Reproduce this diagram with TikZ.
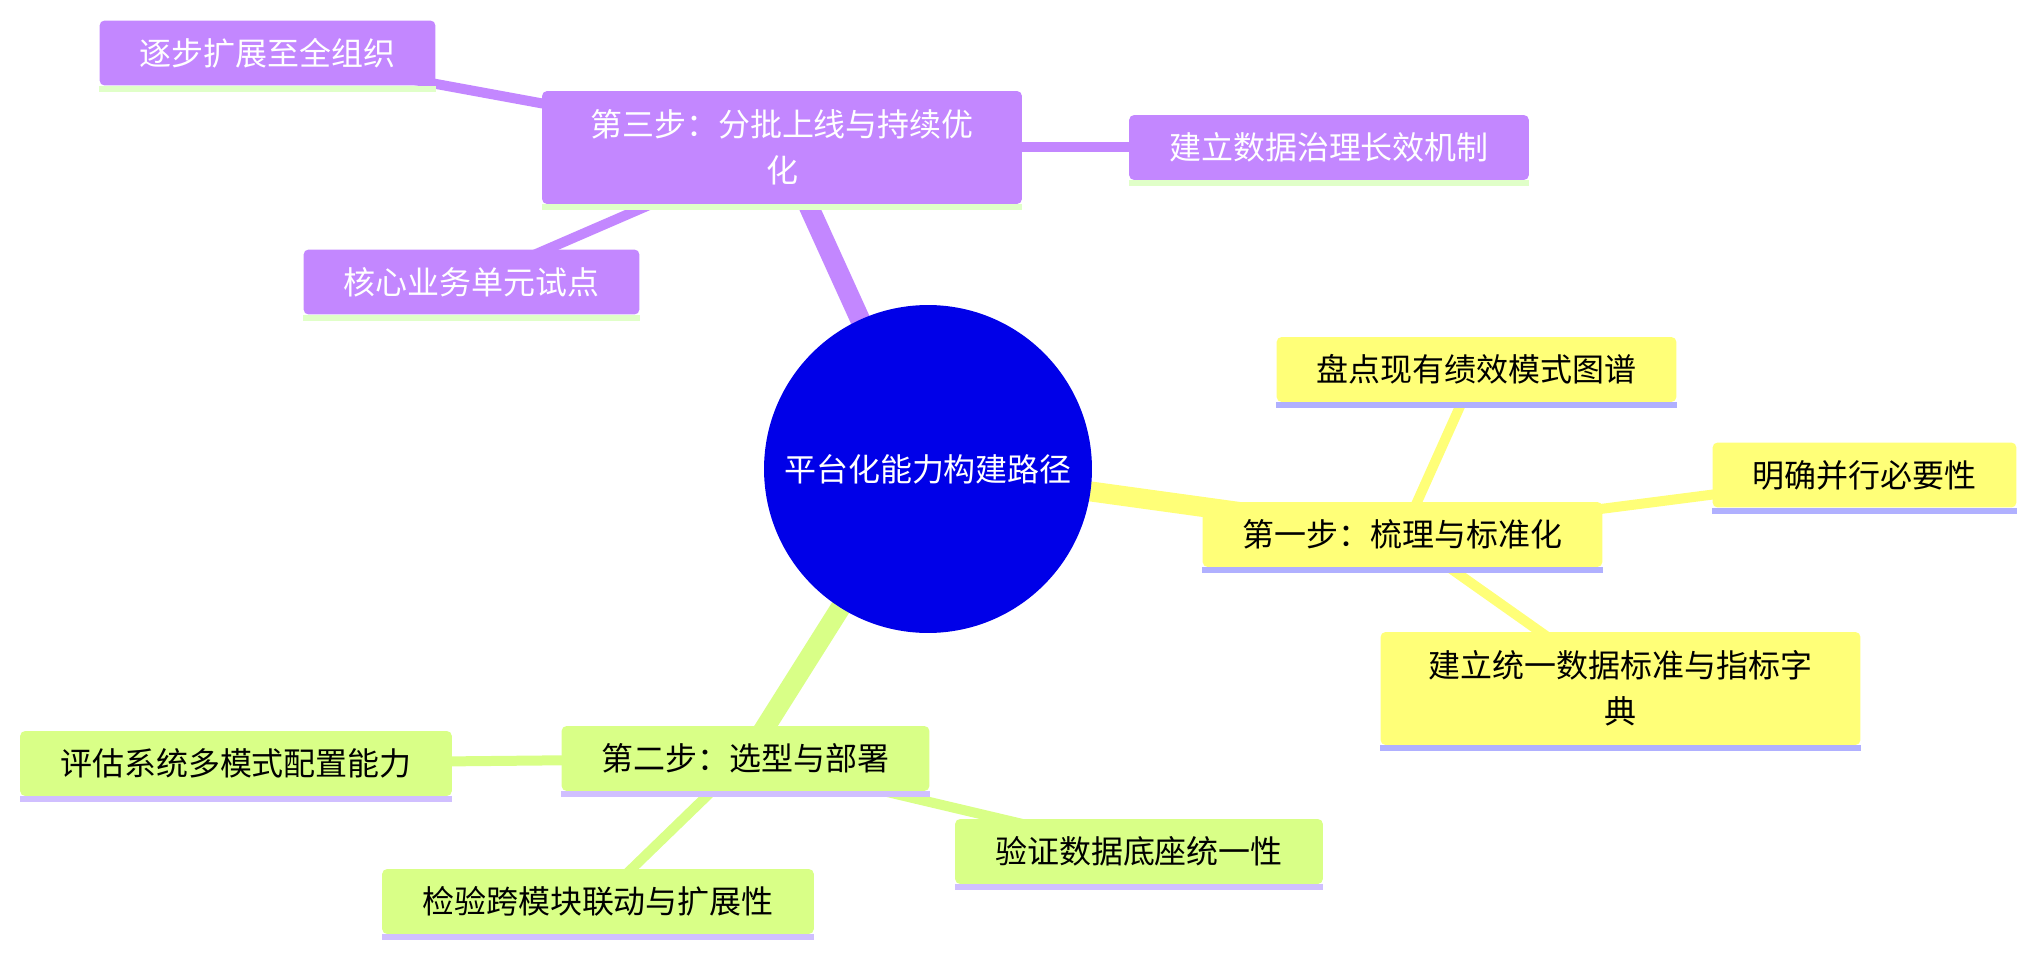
\documentclass[tikz,border=0pt]{standalone}
\usepackage{fontspec}
\setmainfont{Noto Sans CJK SC}
\usetikzlibrary{backgrounds}
\definecolor{rootBlue}{HTML}{0000E8}
\definecolor{stepPurple}{HTML}{C387FF}
\definecolor{stepYellow}{HTML}{FFFF78}
\definecolor{stepGreen}{HTML}{D9FF87}
\definecolor{linePurple}{HTML}{E0FFC8}
\definecolor{lineYellow}{HTML}{B0B0FF}
\definecolor{lineGreen}{HTML}{D0BFFF}

\begin{document}
\begin{tikzpicture}[x=0.02cm, y=-0.02cm,
  font=\fontsize{18.2}{26.2}\selectfont,
  root/.style={circle, fill=rootBlue, text=white, minimum size=6.56cm, inner sep=0pt},
  leaf/.style={rounded corners=0.1cm, inner xsep=0.8cm, inner ysep=0pt, minimum height=1.3cm},
  wrap/.style={leaf, text width=8cm, align=center, minimum height=2.26cm},
  purplebox/.style={leaf, fill=stepPurple, text=white},
  yellowbox/.style={leaf, fill=stepYellow, text=black},
  greenbox/.style={leaf, fill=stepGreen, text=black},
  trunk/.style={line width=0.4cm},
  twig/.style={line width=0.2cm}]
  \useasboundingbox (0,0) rectangle (2036,956);
  % centre
  \node[root] (root) at (928,469) {平台化能力构建路径};
  % step three, purple
  \node[purplebox, wrap] (p0) at (782,147.5) {第三步：分批上线与持续优\\化};
  \node[purplebox] (p1) at (267.5,53) {逐步扩展至全组织};
  \node[purplebox] (p2) at (471.5,282) {核心业务单元试点};
  \node[purplebox] (p3) at (1329,147.5) {建立数据治理长效机制};
  % step one, yellow
  \node[yellowbox] (y0) at (1402.5,534.5) {第一步：梳理与标准化};
  \node[yellowbox] (y1) at (1476.5,369.5) {盘点现有绩效模式图谱};
  \node[yellowbox] (y2) at (1864.5,475) {明确并行必要性};
  \node[yellowbox, wrap] (y3) at (1620.5,688.5) {建立统一数据标准与指标字\\典};
  % step two, green
  \node[greenbox] (g0) at (745.5,758.5) {第二步：选型与部署};
  \node[greenbox] (g1) at (236,763.5) {评估系统多模式配置能力};
  \node[greenbox] (g2) at (598,901.5) {检验跨模块联动与扩展性};
  \node[greenbox] (g3) at (1139,851.5) {验证数据底座统一性};
  % underlines
  \foreach \n/\c in {p0/linePurple, p1/linePurple, p2/linePurple, p3/linePurple,
                     y0/lineYellow, y1/lineYellow, y2/lineYellow, y3/lineYellow,
                     g0/lineGreen, g1/lineGreen, g2/lineGreen, g3/lineGreen}
    \fill[\c] (\n.south west) rectangle ([yshift=-0.12cm]\n.south east);
  % branches behind the boxes
  \begin{pgfonlayer}{background}
    \draw[trunk, stepPurple] (root.center) -- (p0.center);
    \draw[trunk, stepYellow] (root.center) -- (y0.center);
    \draw[trunk, stepGreen] (root.center) -- (g0.center);
    \foreach \n in {p1,p2,p3}
      \draw[twig, stepPurple] (p0.center) -- (\n.center);
    \foreach \n in {y1,y2,y3}
      \draw[twig, stepYellow] (y0.center) -- (\n.center);
    \foreach \n in {g1,g2,g3}
      \draw[twig, stepGreen] (g0.center) -- (\n.center);
  \end{pgfonlayer}
\end{tikzpicture}
\end{document}
